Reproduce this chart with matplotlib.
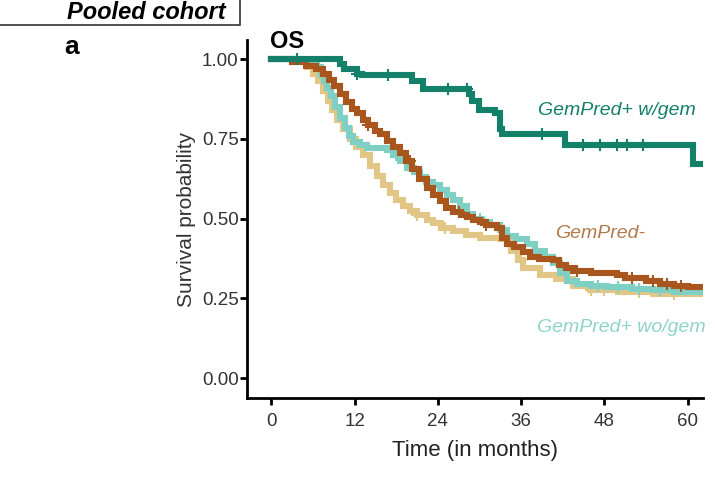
import numpy as np
import matplotlib
matplotlib.use("Agg")
import matplotlib.pyplot as plt
from matplotlib.patches import Rectangle

plt.rcParams['font.family'] = ['Liberation Sans', 'DejaVu Sans']

# ---- data ----
green_t = [0, 9.9, 10.5, 12.4, 13.0, 20.3, 21.9, 28.5, 28.9, 29.9, 32.3, 33.0, 33.3, 42.3, 60.7, 63.0]
green_s = [1.0, 0.985, 0.97, 0.955, 0.95, 0.93, 0.905, 0.89, 0.87, 0.84, 0.83, 0.78, 0.764, 0.73, 0.672, 0.672]
green_c = [3.7, 12.4, 16.8, 25.5, 28.2, 39.0, 44.9, 47.3, 49.8, 51.2, 53.5]

brown_t = [0, 3, 5, 6.5, 7.5, 8.3, 9, 9.9, 10.8, 11.6, 12.4, 13.2, 14, 15, 15.7, 16.6, 17.6, 18.5, 19.4,
           20.3, 21.3, 22.4, 23.3, 24.3, 25.2, 26.2, 27.3, 28.2, 29.1, 30, 31, 32.5, 33.3, 34, 35, 36.2,
           37.3, 38.5, 40.6, 41.5, 42.5, 43.5, 46, 49.8, 51, 54, 56, 58, 60, 63]
brown_s = [1.0, 0.99, 0.98, 0.97, 0.955, 0.935, 0.915, 0.89, 0.865, 0.845, 0.83, 0.81, 0.795, 0.775,
           0.765, 0.745, 0.725, 0.705, 0.68, 0.655, 0.625, 0.595, 0.575, 0.555, 0.535, 0.52, 0.51, 0.505,
           0.495, 0.49, 0.48, 0.47, 0.44, 0.42, 0.41, 0.395, 0.38, 0.375, 0.37, 0.355, 0.345, 0.335, 0.33,
           0.325, 0.315, 0.305, 0.295, 0.29, 0.285, 0.285]
brown_c = [14, 20, 27, 31, 44, 52, 55, 57, 59]

cyan_t = [0, 4, 5.5, 6.6, 7.2, 7.6, 8, 8.6, 9.2, 9.9, 10.6, 11.2, 11.8, 12.8, 13.8, 16.7, 17.5, 18.6,
          19.5, 20.5, 21.4, 22.3, 23.3, 24.3, 25.3, 26.2, 27.2, 28.2, 29, 30.3, 31.5, 33, 34, 35.3, 36.8,
          38, 39.5, 40.6, 41.6, 42.6, 44, 46, 48.3, 52, 55, 58, 63]
cyan_s = [1.0, 0.99, 0.985, 0.975, 0.95, 0.93, 0.91, 0.885, 0.85, 0.815, 0.785, 0.76, 0.74, 0.73, 0.72,
          0.715, 0.70, 0.68, 0.66, 0.645, 0.63, 0.615, 0.605, 0.59, 0.575, 0.56, 0.54, 0.515, 0.50,
          0.49, 0.48, 0.465, 0.445, 0.435, 0.42, 0.40, 0.38, 0.36, 0.33, 0.305, 0.295, 0.29, 0.285,
          0.28, 0.275, 0.27, 0.27]
cyan_c = [18, 30, 47, 50, 53, 56]

tan_t = [0, 3.5, 5.2, 6, 6.8, 7.5, 8.2, 8.8, 9.5, 10.4, 11.4, 12.2, 13.2, 14.2, 15.2, 16.1, 17.1, 18,
         19, 20, 21, 22.4, 23.3, 24.5, 26.2, 28, 30, 33, 34.5, 35.5, 36.3, 38.7, 41, 43.5, 45.9,
         50, 55, 63]
tan_s = [1.0, 0.99, 0.975, 0.955, 0.93, 0.90, 0.87, 0.84, 0.81, 0.78, 0.75, 0.725, 0.70, 0.665, 0.635,
         0.605, 0.58, 0.56, 0.54, 0.525, 0.51, 0.495, 0.485, 0.47, 0.46, 0.45, 0.44, 0.435, 0.40,
         0.37, 0.345, 0.325, 0.31, 0.29, 0.275, 0.27, 0.265, 0.265]
tan_c = [21, 25, 36, 46, 48, 53, 58]

xticks = [0, 12, 24, 36, 48, 60]
yticks = [0.00, 0.25, 0.50, 0.75, 1.00]

C_GREEN = '#13806a'
C_BROWN = '#a8561e'
C_CYAN = '#7fd0c4'
C_TAN = '#e2c686'

fig = plt.figure(figsize=(7.15, 4.8), dpi=100)
ax = fig.add_axes([247/715, 82/480, 456/715, 358/480])

def km(t, s, c, col, z):
    ax.plot(t, s, drawstyle='steps-post', color=col, lw=4.4, zorder=z, solid_joinstyle='miter')
    t = np.asarray(t); s = np.asarray(s)
    idx = np.searchsorted(t, c, side='right') - 1
    ax.plot(c, s[idx], ls='none', marker='+', ms=8, mew=1.5, color=col, zorder=z)

km(tan_t, tan_s, tan_c, C_TAN, 2)
km(cyan_t, cyan_s, cyan_c, C_CYAN, 3)
km(brown_t, brown_s, brown_c, C_BROWN, 4)
km(green_t, green_s, green_c, C_GREEN, 5)

ax.set_xlim(-3.5, 62.2)
ax.set_ylim(-0.062, 1.06)
ax.set_xticks(xticks)
ax.set_xticklabels([str(v) for v in xticks])
ax.set_yticks(yticks)
ax.set_yticklabels([f'{v:.2f}' for v in yticks])
for sp in ['top', 'right']:
    ax.spines[sp].set_visible(False)
for sp in ['left', 'bottom']:
    ax.spines[sp].set_linewidth(2.0)
ax.tick_params(axis='both', width=2, length=5, labelsize=13.5, colors='black', labelcolor='#333333')
ax.tick_params(axis='x', pad=6)
ax.tick_params(axis='y', pad=1)
ax.set_xlabel('Time (in months)', fontsize=16, color='#222222', labelpad=7)
ax.set_ylabel('Survival probability', fontsize=15, color='#333333', labelpad=4)

ax.text(49.8, 0.84, 'GemPred+ w/gem', style='italic', fontsize=14, color=C_GREEN,
        ha='center', va='center', clip_on=False)
ax.text(47.3, 0.455, 'GemPred-', style='italic', fontsize=14, color='#b07a4a',
        ha='center', va='center', clip_on=False)
ax.text(62.6, 0.16, 'GemPred+ wo/gem', style='italic', fontsize=14, color='#8fd4c9',
        ha='right', va='center', clip_on=False)

fig.text(270/715, 1 - 42/480, 'OS', fontsize=17, fontweight='bold', ha='left', va='center')
fig.text(64/715, 1 - 47/480, 'a', fontsize=19, fontweight='bold', ha='left', va='center')

fig.patches.append(Rectangle((-0.01, 1 - 25/480), 240/715 + 0.01, 0.1, transform=fig.transFigure,
                             fill=False, edgecolor='#333333', lw=1.2))
fig.text(226/715, 1 - 19/480, 'Pooled cohort', fontsize=17, fontweight='bold', style='italic',
         ha='right', va='baseline')

fig.savefig('out.png', dpi=100)
